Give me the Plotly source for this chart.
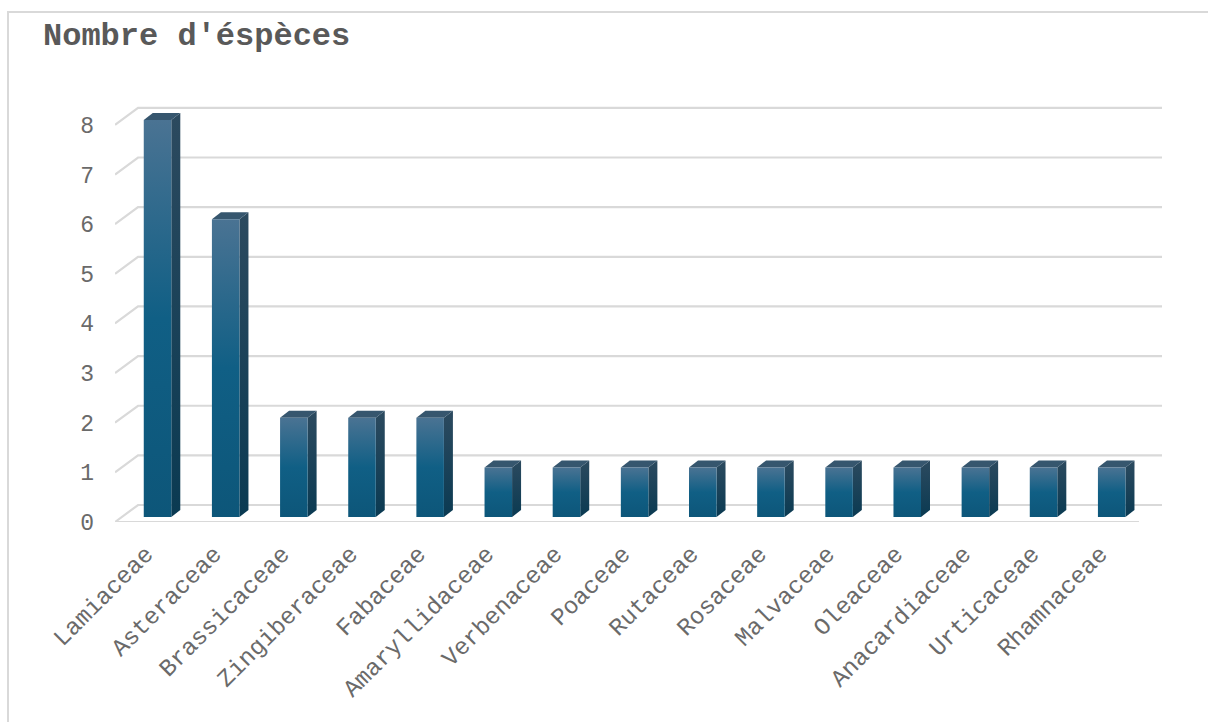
import plotly.graph_objects as go

# Species counts per botanical family
families = ["Lamiaceae", "Asteraceae", "Brassicaceae", "Zingiberaceae", "Fabaceae",
            "Amaryllidaceae", "Verbenaceae", "Poaceae", "Rutaceae", "Rosaceae",
            "Malvaceae", "Oleaceae", "Anacardiaceae", "Urticaceae", "Rhamnaceae"]
species_count = [8, 6, 2, 2, 2, 1, 1, 1, 1, 1, 1, 1, 1, 1, 1]
y_ticks = [0, 1, 2, 3, 4, 5, 6, 7, 8]

# Pseudo-3D geometry (in axis units)
HALF_W = 0.202        # half width of a column's front face
BAR_DX, BAR_DY = 0.132, 0.141   # column depth offset
BAR_LIFT = 0.10       # columns stand slightly behind the front floor edge
WALL_DX, WALL_DY = 0.338, 0.342  # back wall offset
X_FRONT_L, X_FRONT_R = -0.624, 14.40
LABEL_SHIFT = -0.17   # slanted category labels end just left of the column centre

GRID = "#d9d9d9"
TXT = "#595959"
AXIS_TXT = "#6a6a6a"
FONT = "Courier New, Liberation Mono, monospace"

FRONT_SCALE = [[0, "#0d5679"], [0.5, "#105f85"], [1, "#4a7393"]]
SIDE_SCALE = [[0, "#0a3a52"], [1, "#2c4a5f"]]
TOP_COLOR = "#36566e"

fig = go.Figure()

# Back wall gridlines with their diagonal floor/side edges
for v in y_ticks:
    fig.add_trace(go.Scatter(
        x=[X_FRONT_L, X_FRONT_L + WALL_DX, X_FRONT_R + WALL_DX],
        y=[v, v + WALL_DY, v + WALL_DY],
        mode="lines", line=dict(color=GRID, width=2.2),
        hoverinfo="skip", showlegend=False))
# Front edge of the floor
fig.add_trace(go.Scatter(
    x=[X_FRONT_L, X_FRONT_R], y=[0, 0],
    mode="lines", line=dict(color=GRID, width=2.2),
    hoverinfo="skip", showlegend=False))

# Columns: front face, side face and top face
for i, (name, v) in enumerate(zip(families, species_count)):
    xl, xr = i - HALF_W, i + HALF_W
    b, t = BAR_LIFT, v + BAR_LIFT
    # side face
    fig.add_trace(go.Scatter(
        x=[xr, xr, xr + BAR_DX, xr + BAR_DX, xr],
        y=[b, t, t + BAR_DY, b + BAR_DY, b],
        mode="lines", fill="toself", line=dict(width=0),
        fillgradient=dict(type="vertical", colorscale=SIDE_SCALE,
                          start=b, stop=t + BAR_DY),
        hoverinfo="skip", showlegend=False))
    # top face
    fig.add_trace(go.Scatter(
        x=[xl, xl + BAR_DX, xr + BAR_DX, xr, xl],
        y=[t, t + BAR_DY, t + BAR_DY, t, t],
        mode="lines", fill="toself", line=dict(width=0),
        fillcolor=TOP_COLOR, hoverinfo="skip", showlegend=False))
    # front face
    fig.add_trace(go.Scatter(
        x=[xl, xl, xr, xr, xl],
        y=[b, t, t, b, b],
        mode="lines", fill="toself", line=dict(width=0),
        fillgradient=dict(type="vertical", colorscale=FRONT_SCALE,
                          start=b, stop=t),
        name=name, text=f"{name}: {v}", hoverinfo="text", hoveron="fills",
        showlegend=False))

fig.update_layout(
    width=1208, height=722,
    margin=dict(l=115, r=46, t=105, b=200),
    paper_bgcolor="white", plot_bgcolor="white",
    title=dict(text="<b>Nombre d'éspèces</b>", x=43 / 1208, xanchor="left",
               xref="container", y=1 - 34 / 722, yanchor="middle", yref="container",
               font=dict(family=FONT, size=32, color=TXT)),
    xaxis=dict(range=[X_FRONT_L, X_FRONT_R + WALL_DX], tickmode="array",
               tickvals=[i + LABEL_SHIFT for i in range(len(families))],
               ticktext=families, tickangle=-45, ticklabelstandoff=12,
               showgrid=False, zeroline=False, showline=False, ticks="",
               tickfont=dict(family=FONT, size=24, color=AXIS_TXT)),
    yaxis=dict(range=[0, 8.4], tickmode="array", tickvals=y_ticks,
               ticktext=[str(v) for v in y_ticks], showgrid=False, zeroline=False,
               showline=False, ticks="", ticklabelstandoff=20,
               tickfont=dict(family=FONT, size=23, color=AXIS_TXT)),
    shapes=[dict(type="rect", xref="paper", yref="paper",
                 x0=(8 - 115) / 1047, x1=1.06, y0=-0.6, y1=(522 - 12) / 417,
                 line=dict(color=GRID, width=2), layer="below")],
)

fig.write_html("out.html")
